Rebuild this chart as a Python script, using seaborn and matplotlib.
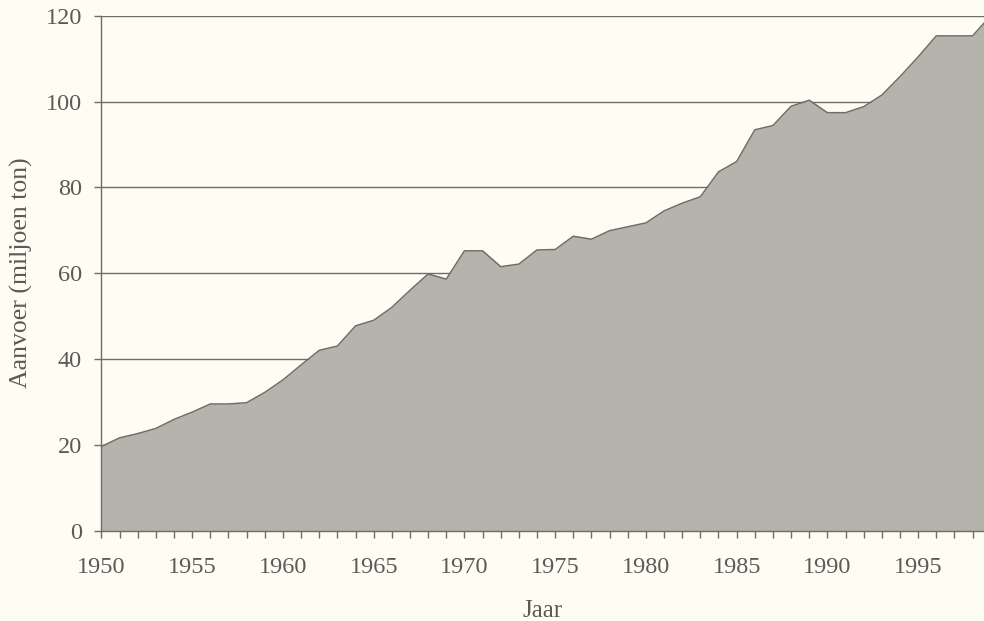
import matplotlib
matplotlib.use("Agg")
import matplotlib.pyplot as plt
import seaborn as sns
import pandas as pd
from matplotlib.ticker import MultipleLocator

years = list(range(1950, 2000))
aanvoer = [19.6, 21.6, 22.6, 23.8, 25.9, 27.6, 29.5, 29.5, 29.8, 32.2,
           35.1, 38.6, 42.0, 43.0, 47.7, 49.0, 52.0, 56.0, 59.8, 58.6,
           65.2, 65.2, 61.5, 62.1, 65.4, 65.5, 68.6, 67.9, 69.9, 70.8,
           71.7, 74.5, 76.3, 77.8, 83.6, 86.0, 93.4, 94.4, 98.9, 100.3,
           97.4, 97.4, 98.8, 101.5, 105.8, 110.4, 115.3, 115.3, 115.3, 120.0]
y_ticks = [0, 20, 40, 60, 80, 100, 120]
x_ticks = [1950, 1955, 1960, 1965, 1970, 1975, 1980, 1985, 1990, 1995]

df = pd.DataFrame({"Jaar": years, "Aanvoer": aanvoer})

bg = "#fdfdf4"
line_c = "#6f6e66"
fill_c = "#b4b3ac"
text_c = "#5b5a55"

sns.set_theme(style="white")
plt.rcParams["font.family"] = ["Liberation Serif", "DejaVu Serif"]

fig = plt.figure(figsize=(9.84, 6.21), dpi=100, facecolor=bg)
ax = fig.add_axes([0.1031, 0.1457, 1.0 - 0.1031, 0.9747 - 0.1457])
ax.set_facecolor(bg)

ax.fill_between(df["Jaar"], 0, df["Aanvoer"], color=fill_c, zorder=2, linewidth=0)
sns.lineplot(data=df, x="Jaar", y="Aanvoer", ax=ax, color=line_c, linewidth=1.1, zorder=3)

ax.set_xlim(1950, 1998.63)
ax.set_ylim(0, 120)
ax.set_yticks(y_ticks)
ax.set_yticklabels([str(v) for v in y_ticks])
ax.set_xticks(x_ticks)
ax.set_xticklabels([str(v) for v in x_ticks])
ax.xaxis.set_minor_locator(MultipleLocator(1))

ax.yaxis.grid(True, color=line_c, linewidth=1.0, zorder=1)
ax.set_axisbelow(True)

for s in ["left", "bottom"]:
    ax.spines[s].set_color(line_c)
    ax.spines[s].set_linewidth(1.0)
    ax.spines[s].set_zorder(4)
ax.spines["top"].set_visible(False)
ax.spines["right"].set_visible(False)

ax.tick_params(axis="both", which="both", direction="out", color=line_c,
               width=1.0, labelcolor=text_c, labelsize=17.5)
ax.tick_params(axis="x", which="both", length=5, pad=14, bottom=True)
ax.tick_params(axis="y", which="major", length=5, pad=9, left=True)

ax.set_xlabel("Jaar", fontsize=18, color=text_c, labelpad=16)
ax.set_ylabel("Aanvoer (miljoen ton)", fontsize=18.5, color=text_c)
ax.yaxis.set_label_coords(-0.077, 0.5)

fig.savefig("out.png", dpi=100, facecolor=bg)
